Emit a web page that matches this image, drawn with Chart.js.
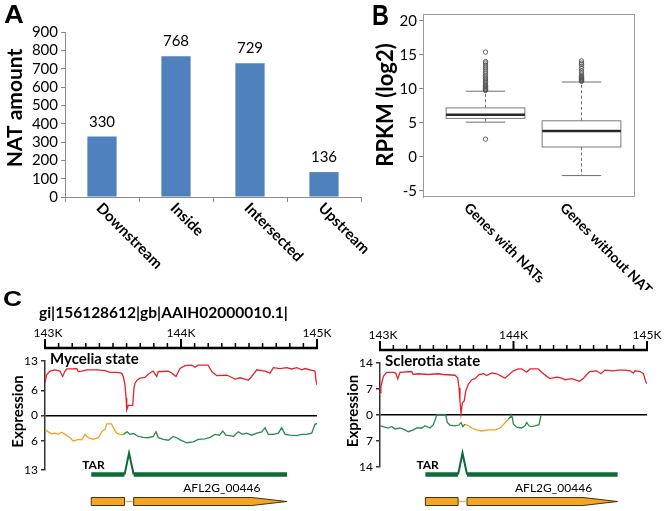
<!DOCTYPE html>
<html><head><meta charset="utf-8">
<script src="https://cdn.jsdelivr.net/npm/chart.js@4.4.1/dist/chart.umd.min.js"></script>
<style>
html,body{margin:0;padding:0;background:#fff}
body{width:667px;height:511px;position:relative;overflow:hidden;font-family:Lato,sans-serif;color:#000}
canvas{position:absolute}
.pl{position:absolute;font-family:'Liberation Sans',Arial,sans-serif;font-weight:bold;line-height:1;white-space:nowrap;transform-origin:0 0}
</style></head><body>
<canvas id="cA" width="370" height="290" style="left:0;top:0"></canvas>
<canvas id="cB" width="327" height="290" style="left:340px;top:0"></canvas>
<canvas id="cCL" width="340" height="191" style="left:0;top:320px"></canvas>
<canvas id="cCR" width="327" height="191" style="left:340px;top:320px"></canvas>
<div class="pl" style="left:4px;top:2px;font-size:25px;transform:scaleX(1.1)">A</div>
<div class="pl" style="left:372px;top:-0.5px;font-size:30px;transform:scaleX(0.78)">B</div>
<div class="pl" style="left:3px;top:288px;font-size:22px;transform:scaleX(1.2)">C</div>
<div style="position:absolute;left:39px;top:305px;font:bold 15.5px Lato;line-height:1;white-space:nowrap">gi|156128612|gb|AAIH02000010.1|</div>
<script>
// ---------- Panel A data ----------
const natCategories = ['Downstream', 'Inside', 'Intersected', 'Upstream'];
const natAmounts = [330, 768, 729, 136];
const natTicks = [0, 100, 200, 300, 400, 500, 600, 700, 800, 900];

// ---------- Panel B data ----------
const rpkmGroups = ['Genes with NATs', 'Genes without NATs'];
const rpkmLowerWhisker = [5.1, -2.75];
const rpkmQ1 = [5.65, 1.45];
const rpkmMedian = [6.2, 3.8];
const rpkmQ3 = [7.2, 5.3];
const rpkmUpperWhisker = [9.65, 11.0];
const rpkmOutliersWith = [2.6, 9.75, 9.85, 9.95, 10.05, 10.2, 10.35, 10.5, 10.7, 10.9, 11.1, 11.3, 11.5, 11.75, 12.0, 12.3, 12.6, 12.9, 13.2, 13.5, 13.8, 14.0, 15.4];
const rpkmOutliersWithout = [11.1, 11.2, 11.3, 11.4, 11.5, 11.6, 11.7, 11.8, 12.0, 12.3, 12.6, 13.0, 13.3, 13.6, 13.8, 14.1];
const rpkmTicks = [-5, 0, 5, 10, 15, 20];

// ---------- Panel C data ----------
const rulerMajor = [143000, 144000, 145000];
const rulerLabels = ['143K', '144K', '145K'];
const rulerMinor = [143100, 143200, 143300, 143400, 143500, 143600, 143700, 143800, 143900,
                    144100, 144200, 144300, 144400, 144500, 144600, 144700, 144800, 144900];
const myceliaTicks = [-13, -6, 0, 6, 13];
const sclerotiaTicks = [-14, -7, 0, 7, 14];

const myceliaSense = [[143000,7.8],[143012,9.7],[143037,10.6],[143074,10.9],[143110,10.6],[143130,9.3],[143147,10.6],[143160,11.1],[143208,11.1],[143233,11.2],[143245,10.5],[143270,10.6],[143307,10.9],[143380,10.9],[143441,10.7],[143478,10.3],[143527,10.3],[143564,10.1],[143576,9.3],[143588,7.3],[143596,4.2],[143601,1.4],[143612,2.4],[143645,2.4],[143654,6.5],[143662,7.7],[143679,8.5],[143699,8.9],[143735,9.1],[143760,9.9],[143796,10.6],[143821,9.3],[143833,10.5],[143870,10.5],[143907,10.6],[143932,10.1],[143963,9.3],[143993,11.2],[144029,11.9],[144079,12.0],[144103,11.5],[144125,12.0],[144199,12.0],[144226,10.5],[144263,9.5],[144336,9.6],[144360,9.3],[144397,8.7],[144434,9.0],[144471,8.7],[144495,8.4],[144520,9.3],[144557,10.9],[144618,10.6],[144654,10.1],[144679,11.4],[144728,11.2],[144777,11.4],[144814,11.1],[144851,11.4],[144888,10.9],[144912,11.2],[144949,10.9],[144985,10.6],[144994,8.1],[145000,7.3]];
const myceliaAntiOrange = [[143000,-3.3],[143024,-3.9],[143049,-4.4],[143074,-4.2],[143098,-4.5],[143123,-4.0],[143147,-4.5],[143184,-5.3],[143208,-6.1],[143245,-5.7],[143270,-5.8],[143294,-4.5],[143318,-5.3],[143355,-5.7],[143392,-5.3],[143417,-3.9],[143441,-3.3],[143454,-2.0],[143490,-2.0],[143502,-2.9],[143527,-4.2],[143551,-4.5],[143576,-4.6]];
const myceliaAntiGreen = [[143576,-4.6],[143588,-4.2],[143605,-3.9],[143625,-4.5],[143649,-4.3],[143686,-5.0],[143723,-5.2],[143760,-5.3],[143796,-5.0],[143816,-3.9],[143833,-5.3],[143870,-5.7],[143907,-5.9],[143943,-5.0],[143968,-5.3],[143993,-5.8],[144042,-6.5],[144090,-6.3],[144127,-5.7],[144176,-5.6],[144213,-5.2],[144250,-4.5],[144282,-4.7],[144307,-3.7],[144331,-4.7],[144360,-4.8],[144385,-5.0],[144421,-3.9],[144454,-4.5],[144483,-4.2],[144520,-4.7],[144557,-4.2],[144593,-3.9],[144618,-2.9],[144642,-4.5],[144679,-4.5],[144716,-4.2],[144740,-2.9],[144765,-4.5],[144801,-4.7],[144851,-4.8],[144888,-4.5],[144924,-4.5],[144961,-4.2],[144985,-2.1],[145000,-1.9]];

const sclerotiaSense = [[143000,6.0],[143007,7.7],[143025,10.4],[143050,11.5],[143100,11.5],[143118,11.3],[143133,9.7],[143150,11.5],[143237,11.7],[143249,10.9],[143287,11.1],[143362,10.9],[143437,11.1],[143474,10.9],[143562,10.7],[143582,10.0],[143592,7.3],[143599,3.8],[143607,0.4],[143617,3.3],[143631,3.8],[143642,6.4],[143661,8.2],[143687,9.5],[143712,9.8],[143742,10.9],[143774,11.1],[143799,10.6],[143837,11.3],[143874,11.1],[143912,10.4],[143936,9.9],[143961,10.7],[143999,11.9],[144036,12.4],[144061,12.4],[144099,11.5],[144124,12.4],[144186,12.4],[144211,11.5],[144249,10.4],[144273,9.8],[144324,10.2],[144361,9.9],[144386,9.5],[144436,9.8],[144473,9.3],[144493,9.1],[144523,9.8],[144548,10.9],[144573,11.7],[144623,11.9],[144655,11.1],[144685,12.1],[144748,11.9],[144785,12.1],[144835,12.1],[144873,11.9],[144898,11.3],[144910,11.9],[144948,11.7],[144973,11.1],[144990,9.1],[145000,8.4]];
const sclerotiaAntiGreenA = [[143000,-2.9],[143025,-3.1],[143062,-3.5],[143088,-3.1],[143112,-3.8],[143150,-3.5],[143187,-4.0],[143212,-4.5],[143249,-4.0],[143275,-3.5],[143312,-3.5],[143337,-2.9],[143375,-3.5],[143399,-2.6],[143412,-1.4],[143425,0],[143492,0],[143504,-2.0],[143524,-2.7],[143562,-2.9],[143592,-2.7],[143607,-2.0],[143620,-3.1],[143637,-2.5]];
const sclerotiaAntiOrange = [[143637,-2.5],[143662,-2.9],[143687,-3.5],[143724,-4.0],[143762,-4.3],[143811,-4.0],[143861,-4.0],[143899,-3.5],[143924,-2.6],[143949,-1.6],[143961,-1.2]];
const sclerotiaAntiGreenB = [[143961,-1.2],[143974,-0.6],[143981,0],[143991,-0.6],[143999,-2.4],[144024,-3.3],[144061,-3.5],[144086,-2.9],[144099,-2.0],[144116,-2.9],[144136,-3.1],[144161,-2.9],[144191,-2.6],[144206,0]];

const tarSegments = [[143340, 143585], [143652, 144780]];
const tarJunctionPeak = 143618;
const geneExons = [[143340, 143585], [143652, 144780]];
const geneTaperStart = 144520;
const geneName = 'AFL2G_00446';
const geneLabelAt = 144300;

// ---------- helpers ----------
const FONT = 'Lato, sans-serif';
function seg(ctx, x1, y1, x2, y2) { ctx.beginPath(); ctx.moveTo(x1, y1); ctx.lineTo(x2, y2); ctx.stroke(); }
function rotText(ctx, text, x, y, ang, align, font) {
  ctx.save(); ctx.translate(x, y); ctx.rotate(ang); ctx.font = font; ctx.textAlign = align; ctx.textBaseline = 'middle';
  ctx.fillStyle = '#000'; ctx.fillText(text, 0, 0); ctx.restore();
}
const pts = arr => arr.map(p => ({x: p[0], y: p[1]}));
const common = {responsive: false, animation: false, devicePixelRatio: 1,
  plugins: {legend: {display: false}, tooltip: {enabled: false}}};

// ---------- Panel A ----------
const plugA = {id: 'plugA', afterDraw(chart) {
  const ctx = chart.ctx, a = chart.chartArea, xs = chart.scales.x;
  ctx.save();
  ctx.font = '15px ' + FONT; ctx.fillStyle = '#000'; ctx.textAlign = 'center'; ctx.textBaseline = 'alphabetic';
  chart.getDatasetMeta(0).data.forEach((bar, i) => ctx.fillText(String(natAmounts[i]), bar.x, bar.y - 10));
  natCategories.forEach((c, i) => rotText(ctx, c, xs.getPixelForValue(i) - 3, a.bottom + 8.5, Math.PI / 4, 'left', 'bold 15px ' + FONT));
  rotText(ctx, 'NAT amount', 15, 108, -Math.PI / 2, 'center', 'bold 21px ' + FONT);
  ctx.restore();
}};
new Chart(document.getElementById('cA'), {
  type: 'bar',
  data: {labels: natCategories, datasets: [{data: natAmounts, backgroundColor: '#4f81bd', borderWidth: 0, categoryPercentage: 1, barPercentage: 0.395}]},
  options: Object.assign({}, common, {
    layout: {padding: {left: 0, top: 32, right: 9, bottom: 0}},
    scales: {
      x: {grid: {offset: true, drawOnChartArea: false, tickLength: 5, color: '#8a8a8a'}, border: {color: '#8a8a8a'},
          ticks: {display: false}, afterFit(s) { s.height = 93; }},
      y: {min: 0, max: 900, afterBuildTicks(s) { s.ticks = natTicks.map(v => ({value: v})); },
          grid: {drawOnChartArea: false, tickLength: 4, color: '#8a8a8a'}, border: {color: '#8a8a8a'},
          ticks: {autoSkip: false, font: {family: FONT, size: 15}, color: '#000', padding: 3}, afterFit(s) { s.width = 65; }}
    }
  }),
  plugins: [plugA]
});

// ---------- Panel B ----------
const plugB = {id: 'plugB', beforeDatasetsDraw(chart) {
  const ctx = chart.ctx, a = chart.chartArea, x = chart.scales.x, y = chart.scales.y;
  ctx.save();
  ctx.strokeStyle = '#9a9a9a'; ctx.lineWidth = 1;
  ctx.strokeRect(a.left + 0.5, a.top + 0.5, a.right - a.left - 1, a.bottom - a.top - 1);
  rpkmGroups.forEach((g, i) => {
    const p = i + 1, yp = v => y.getPixelForValue(v);
    const xc = x.getPixelForValue(p), xl = x.getPixelForValue(p - 0.41), xr = x.getPixelForValue(p + 0.41);
    const cl = x.getPixelForValue(p - 0.205), cr = x.getPixelForValue(p + 0.205);
    ctx.strokeStyle = '#6e6e6e'; ctx.lineWidth = 1; ctx.setLineDash([3, 2.5]);
    seg(ctx, xc, yp(rpkmQ3[i]), xc, yp(rpkmUpperWhisker[i]));
    seg(ctx, xc, yp(rpkmQ1[i]), xc, yp(rpkmLowerWhisker[i]));
    ctx.setLineDash([]);
    seg(ctx, cl, yp(rpkmUpperWhisker[i]), cr, yp(rpkmUpperWhisker[i]));
    seg(ctx, cl, yp(rpkmLowerWhisker[i]), cr, yp(rpkmLowerWhisker[i]));
    ctx.fillStyle = '#fff'; ctx.strokeStyle = '#7a7a7a';
    ctx.fillRect(xl, yp(rpkmQ3[i]), xr - xl, yp(rpkmQ1[i]) - yp(rpkmQ3[i]));
    ctx.strokeRect(xl, yp(rpkmQ3[i]), xr - xl, yp(rpkmQ1[i]) - yp(rpkmQ3[i]));
    ctx.strokeStyle = '#2a2a2a'; ctx.lineWidth = 2.5;
    seg(ctx, xl, yp(rpkmMedian[i]), xr, yp(rpkmMedian[i]));
    ctx.lineWidth = 1;
    rotText(ctx, g, xc - 19, a.bottom + 8.5, Math.PI / 4, 'left', 'bold 14px ' + FONT);
  });
  rotText(ctx, 'RPKM (log2)', 46, 105, -Math.PI / 2, 'center', 'bold 22px ' + FONT);
  ctx.restore();
}};
new Chart(document.getElementById('cB'), {
  type: 'scatter',
  data: {datasets: [
    {data: rpkmOutliersWith.map(v => ({x: 1, y: v})), borderColor: '#555', backgroundColor: 'rgba(255,255,255,0)', pointRadius: 2.2, borderWidth: 0.9},
    {data: rpkmOutliersWithout.map(v => ({x: 2, y: v})), borderColor: '#555', backgroundColor: 'rgba(255,255,255,0)', pointRadius: 2.2, borderWidth: 0.9}
  ]},
  options: Object.assign({}, common, {
    layout: {padding: {left: 0, top: 14, right: 32, bottom: 93}},
    scales: {
      x: {type: 'linear', display: false, min: 0.349, max: 2.557},
      y: {min: -5.9, max: 21, afterBuildTicks(s) { s.ticks = rpkmTicks.map(v => ({value: v})); },
          grid: {drawOnChartArea: false, tickLength: 4, color: '#8a8a8a'}, border: {color: '#9a9a9a'},
          ticks: {autoSkip: false, font: {family: FONT, size: 15}, color: '#000', padding: 2}, afterFit(s) { s.width = 83; }}
    }
  }),
  plugins: [plugB]
});

// ---------- Panel C ----------
function trackPlugin(title) {
  return {id: 'track', afterDraw(chart) {
    const ctx = chart.ctx, a = chart.chartArea, x = chart.scales.x;
    const X = v => x.getPixelForValue(v);
    ctx.save();
    ctx.strokeStyle = '#000'; ctx.fillStyle = '#000';
    const rY = a.top - 13;
    ctx.lineWidth = 2.6; seg(ctx, X(rulerMajor[0]) - 1, rY, X(rulerMajor[rulerMajor.length - 1]) + 1, rY);
    ctx.lineWidth = 1.5;
    rulerMinor.forEach(v => seg(ctx, X(v), rY - 5, X(v), rY));
    ctx.lineWidth = 2;
    rulerMajor.forEach(v => seg(ctx, X(v), rY - 9, X(v), rY));
    ctx.font = '12px ' + FONT; ctx.textAlign = 'center'; ctx.textBaseline = 'middle';
    rulerMajor.forEach((v, i) => ctx.fillText(rulerLabels[i], X(v) + (i === 0 ? 3 : 0), a.top - 28));
    ctx.font = 'bold 15px ' + FONT; ctx.textAlign = 'left';
    ctx.fillText(title, a.left + 5, a.top - 2);
    rotText(ctx, 'Expression', a.left - 27, (a.top + a.bottom) / 2 - 4, -Math.PI / 2, 'center', 'bold 15px ' + FONT);
    // TAR
    const barY = 154.5, peakY = 133;
    ctx.strokeStyle = '#0d6b38'; ctx.lineCap = 'butt';
    ctx.lineWidth = 4.5;
    tarSegments.forEach(s => seg(ctx, X(s[0]), barY, X(s[1]), barY));
    ctx.lineWidth = 2;
    ctx.beginPath(); ctx.moveTo(X(tarSegments[0][1]), barY); ctx.lineTo(X(tarJunctionPeak), peakY); ctx.lineTo(X(tarSegments[1][0]), barY); ctx.stroke();
    ctx.font = 'bold 12px ' + FONT; ctx.textAlign = 'left'; ctx.fillStyle = '#000';
    ctx.fillText('TAR', X(tarSegments[0][0]) - 9, 145.5);
    // gene model
    const gt = 177.5, gb = 185.5, gm = (gt + gb) / 2;
    ctx.fillStyle = '#f2a626'; ctx.strokeStyle = '#4a3008'; ctx.lineWidth = 1;
    ctx.beginPath(); ctx.rect(X(geneExons[0][0]), gt, X(geneExons[0][1]) - X(geneExons[0][0]), gb - gt); ctx.fill(); ctx.stroke();
    ctx.beginPath(); ctx.moveTo(X(geneExons[1][0]), gt); ctx.lineTo(X(geneTaperStart), gt); ctx.lineTo(X(geneExons[1][1]), gm);
    ctx.lineTo(X(geneTaperStart), gb); ctx.lineTo(X(geneExons[1][0]), gb); ctx.closePath(); ctx.fill(); ctx.stroke();
    ctx.strokeStyle = '#f2a626'; ctx.lineWidth = 1.2;
    seg(ctx, X(geneExons[0][1]) + 1, gm, X(geneExons[1][0]) - 1, gm);
    ctx.fillStyle = '#000'; ctx.font = '12px ' + FONT; ctx.textAlign = 'center';
    ctx.fillText(geneName, X(geneLabelAt), 168);
    ctx.restore();
  }};
}
function trackChart(id, title, ticks, series, pad, yWidth) {
  const lim = ticks[ticks.length - 1];
  return new Chart(document.getElementById(id), {
    type: 'line',
    data: {datasets: series.map(s => ({data: pts(s[0]), borderColor: s[1], borderWidth: 1.3, pointRadius: 0, fill: false, tension: 0}))},
    options: Object.assign({}, common, {
      layout: {padding: pad},
      scales: {
        x: {type: 'linear', display: false, min: rulerMajor[0], max: rulerMajor[rulerMajor.length - 1]},
        y: {min: -lim, max: lim, afterBuildTicks(s) { s.ticks = ticks.map(v => ({value: v})); },
            ticks: {autoSkip: false, callback: v => String(Math.abs(v)), font: {family: FONT, size: 12}, color: '#000', padding: 3},
            grid: {color: c => (c.tick && c.tick.value === 0) ? '#000' : 'rgba(0,0,0,0)', lineWidth: 1.5, tickColor: '#333', tickLength: 4},
            border: {color: '#333', width: 1.5},
            afterFit(s) { s.width = yWidth; }}
      }
    }),
    plugins: [trackPlugin(title)]
  });
}
const RED = '#e2252b', GREEN = '#2a8a4c', ORANGE = '#f2a11c';
trackChart('cCL', 'Mycelia state', myceliaTicks,
  [[myceliaSense, RED], [myceliaAntiOrange, ORANGE], [myceliaAntiGreen, GREEN]],
  {left: 0, top: 41, right: 23, bottom: 41}, 45);
trackChart('cCR', 'Sclerotia state', sclerotiaTicks,
  [[sclerotiaSense, RED], [sclerotiaAntiGreenA, GREEN], [sclerotiaAntiOrange, ORANGE], [sclerotiaAntiGreenB, GREEN]],
  {left: 0, top: 43, right: 20, bottom: 44}, 40);
</script>
</body></html>
